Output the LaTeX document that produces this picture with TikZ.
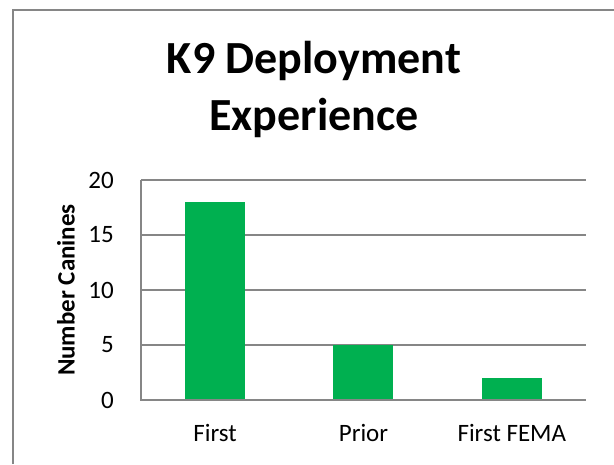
\documentclass[tikz,border=0pt]{standalone}
\usepackage{fontspec}
\setmainfont{Carlito}
\definecolor{bargreen}{HTML}{00B050}
\definecolor{gridgray}{HTML}{868686}

\begin{document}
\begin{tikzpicture}[x=1pt,y=-1pt,
    ticklabel/.style={anchor=east, inner sep=0pt, font=\fontsize{25}{30}\selectfont},
    catlabel/.style={anchor=base, inner sep=0pt, font=\fontsize{25}{30}\selectfont},
    bar/.style={fill=bargreen, draw=none, inner sep=0pt, minimum width=60pt, anchor=south},
    gridline/.style={gridgray, line width=1.3pt}]
  \useasboundingbox (0,0) rectangle (614,464);
  \draw[gridgray, line width=2.2pt] (13,464) -- (13,10) -- (614,10);
  \node[align=center, inner sep=0pt, font=\fontsize{46}{57}\bfseries\selectfont] (title) at (314,89) {K9 Deployment\\Experience};
  \node[rotate=90, inner sep=0pt, font=\fontsize{25}{30}\bfseries\selectfont] (ytitle) at (66,290) {Number Canines};
  \begin{scope}[shift={(141,400)}, y=11pt]
    \foreach \v in {5,10,...,20} {
      \draw[gridline] (0,\v) -- (445,\v);
    }
    \foreach \v in {0,5,...,20} {
      \node[ticklabel] (tick\v) at (-27,\v) {\v};
    }
    \foreach \i/\val/\lab in {1/18/First, 2/5/Prior, 3/2/First FEMA} {
      \pgfmathsetmacro\cx{(\i-0.5)*148.33}
      \node[bar, minimum height=\val*11pt] (bar\i) at (\cx,0) {};
      \node[catlabel] (cat\i) at ([yshift=-41pt]bar\i.south) {\lab};
    }
    \draw[gridline] (0,20) -- (0,0) -- (445,0);
  \end{scope}
\end{tikzpicture}
\end{document}
